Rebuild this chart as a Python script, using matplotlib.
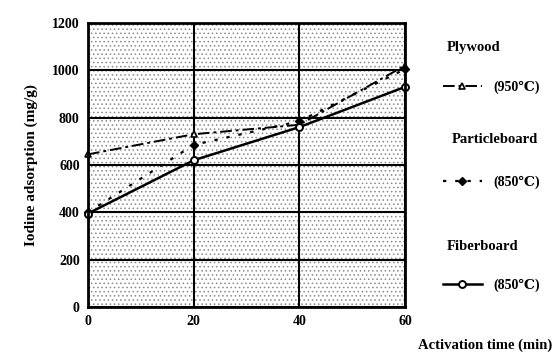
import matplotlib.pyplot as plt
from matplotlib.patches import Rectangle

plt.rcParams['font.family'] = ['Liberation Serif', 'DejaVu Serif']
plt.rcParams['font.weight'] = 'bold'
plt.rcParams['hatch.color'] = '#8a8a8a'
plt.rcParams['hatch.linewidth'] = 0.6

# activation time (min)
time = [0, 20, 40, 60]
# iodine adsorption (mg/g)
plywood = [645, 730, 770, 1020]
particleboard = [400, 685, 785, 1005]
fiberboard = [395, 620, 760, 930]

xticks = [0, 20, 40, 60]
yticks = [0, 200, 400, 600, 800, 1000, 1200]

fig = plt.figure(figsize=(5.55, 3.58), dpi=100)
ax = fig.add_axes([88 / 555, 1 - 307 / 358, 317 / 555, 284 / 358])

# speckled background of the scanned original
ax.add_patch(Rectangle((0, 0), 1, 1, transform=ax.transAxes, facecolor='white',
                       hatch='....', edgecolor='#8a8a8a', lw=0, zorder=0))

l1, = ax.plot(time, plywood, color='black', lw=1.4, ls=(0, (6, 2, 1.5, 2)),
              marker='^', ms=4.5, mfc='white', mec='black', mew=1.2, clip_on=False, zorder=4)
l2, = ax.plot(time, particleboard, color='black', lw=1.6, ls=(0, (1.5, 4)),
              marker='D', ms=4, mfc='black', mec='black', clip_on=False, zorder=4)
l3, = ax.plot(time, fiberboard, color='black', lw=1.8, ls='-',
              marker='o', ms=5, mfc='white', mec='black', mew=1.4, clip_on=False, zorder=5)

ax.set_xlim(0, 60)
ax.set_ylim(0, 1200)
ax.set_xticks(xticks)
ax.set_yticks(yticks)
ax.tick_params(length=0, labelsize=10, pad=6)
ax.grid(True, color='black', lw=1.5, zorder=1)
ax.set_axisbelow(False)
for s in ax.spines.values():
    s.set_linewidth(2)
    s.set_zorder(6)

ax.set_ylabel('Iodine adsorption (mg/g)', fontsize=11, fontweight='bold', labelpad=10)
fig.text(485 / 555, 1 - 345 / 358, 'Activation time (min)', fontsize=10.5,
         fontweight='bold', ha='center', va='center')

# legend: name above, sample line with temperature below
names = ['Plywood', 'Particleboard', 'Fiberboard']
temps = ['(950\u2103)', '(850\u2103)', '(850\u2103)']
name_y = [47, 140, 247]
name_x = [447, 452, 447]
line_y = [87, 182, 285]
for h, n, t, nx, ny, ly in zip([l1, l2, l3], names, temps, name_x, name_y, line_y):
    fig.text(nx / 555, 1 - ny / 358, n, fontsize=10.5, ha='left', va='center')
    fig.legend(handles=[h], labels=[t], loc='center left',
               bbox_to_anchor=(436 / 555, 1 - ly / 358), frameon=False,
               fontsize=10, handlelength=2.8, handletextpad=0.8, borderpad=0)

fig.savefig('out.png', dpi=100)
